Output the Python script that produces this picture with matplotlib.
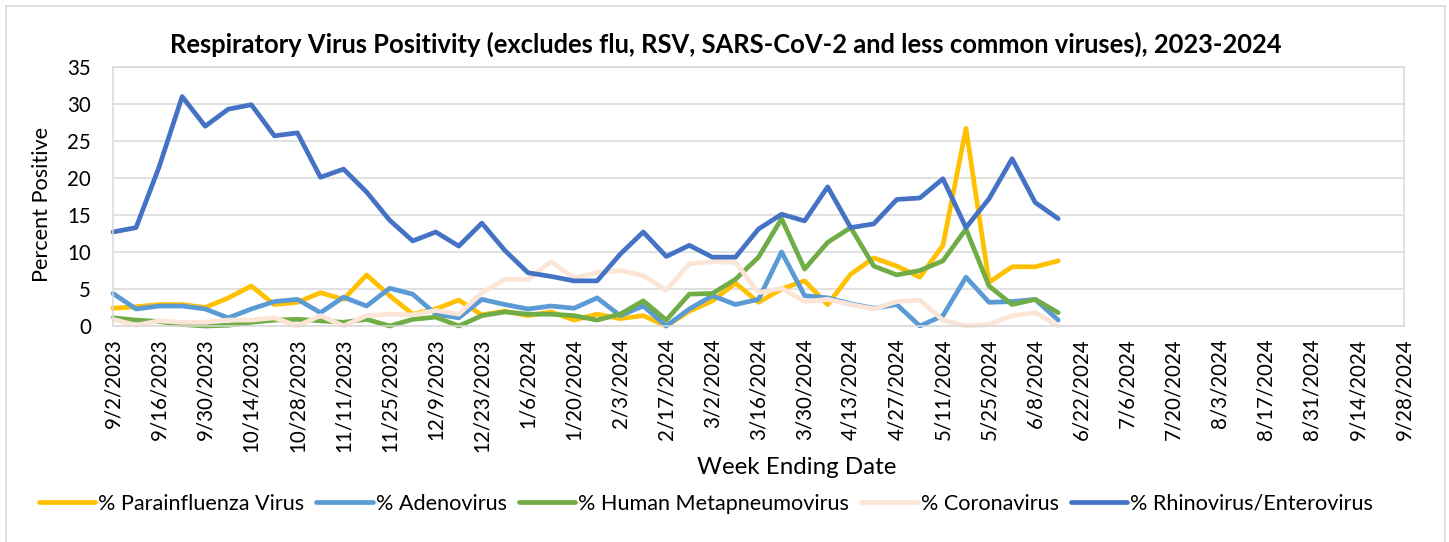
import matplotlib
matplotlib.use("Agg")
import matplotlib.pyplot as plt
from matplotlib.patches import Rectangle
import numpy as np

# weekly values, week ending 9/2/2023 .. 6/15/2024
parainfluenza = [2.4, 2.6, 2.9, 2.9, 2.5, 3.8, 5.4, 2.9, 3.2, 4.5, 3.6, 6.9, 4.1, 1.6,
                 2.3, 3.5, 1.5, 2.0, 1.4, 1.9, 0.8, 1.6, 1.0, 1.4, 0.0, 2.0, 3.4, 5.8,
                 3.2, 5.0, 6.1, 2.9, 7.0, 9.2, 8.1, 6.6, 10.9, 26.7, 5.9, 8.0, 8.0, 8.8]
adenovirus = [4.4, 2.3, 2.7, 2.7, 2.3, 1.1, 2.3, 3.3, 3.6, 1.8, 3.9, 2.7, 5.1, 4.3,
              1.6, 1.1, 3.6, 2.9, 2.3, 2.7, 2.4, 3.8, 1.4, 2.7, 0.0, 2.3, 4.1, 2.9,
              3.6, 10.0, 4.1, 3.8, 3.0, 2.4, 2.9, 0.0, 1.4, 6.6, 3.2, 3.3, 3.6, 0.8]
metapneumovirus = [1.1, 0.8, 0.6, 0.2, 0.0, 0.1, 0.5, 0.8, 0.9, 0.7, 0.5, 0.9, 0.0, 0.9,
                   1.2, 0.0, 1.4, 1.9, 1.6, 1.6, 1.4, 0.8, 1.6, 3.4, 0.8, 4.3, 4.4, 6.3,
                   9.3, 14.5, 7.7, 11.3, 13.3, 8.1, 6.9, 7.5, 8.8, 13.1, 5.4, 2.9, 3.6, 1.8]
coronavirus = [0.9, 0.1, 0.7, 0.5, 0.5, 0.8, 0.8, 1.1, 0.0, 1.4, 0.0, 1.4, 1.6, 1.5,
               2.1, 1.6, 4.5, 6.3, 6.3, 8.7, 6.5, 7.2, 7.5, 6.8, 4.8, 8.4, 8.7, 8.6,
               4.5, 5.1, 3.3, 3.6, 2.9, 2.3, 3.3, 3.5, 0.8, 0.0, 0.2, 1.4, 1.8, 0.0]
rhinovirus = [12.7, 13.3, 21.5, 31.0, 27.0, 29.3, 29.9, 25.7, 26.1, 20.1, 21.2, 18.1, 14.3, 11.5,
              12.7, 10.8, 13.9, 10.2, 7.2, 6.7, 6.1, 6.1, 9.7, 12.7, 9.4, 10.9, 9.3, 9.3,
              13.1, 15.1, 14.2, 18.8, 13.3, 13.8, 17.1, 17.3, 19.9, 13.3, 17.2, 22.6, 16.7, 14.5]

# axis labels every two weeks, 9/2/2023 .. 9/28/2024
tick_labels = ["9/2/2023", "9/16/2023", "9/30/2023", "10/14/2023", "10/28/2023",
               "11/11/2023", "11/25/2023", "12/9/2023", "12/23/2023", "1/6/2024",
               "1/20/2024", "2/3/2024", "2/17/2024", "3/2/2024", "3/16/2024",
               "3/30/2024", "4/13/2024", "4/27/2024", "5/11/2024", "5/25/2024",
               "6/8/2024", "6/22/2024", "7/6/2024", "7/20/2024", "8/3/2024",
               "8/17/2024", "8/31/2024", "9/14/2024", "9/28/2024"]

series = [
    ("% Parainfluenza Virus", parainfluenza, "#FFC000"),
    ("% Adenovirus", adenovirus, "#5B9BD5"),
    ("% Human Metapneumovirus", metapneumovirus, "#70AD47"),
    ("% Coronavirus", coronavirus, "#FBE5D6"),
    ("% Rhinovirus/Enterovirus", rhinovirus, "#4472C4"),
]

plt.rcParams["font.family"] = ["Lato", "DejaVu Sans"]
W, H = 1449, 542
fig = plt.figure(figsize=(W / 100, H / 100), dpi=100)
ax = fig.add_axes([113 / W, 1 - 326 / H, (1404 - 113) / W, (326 - 67) / H])

# chart border
fig.patches.append(Rectangle((6 / W, -0.01), (1445 - 6) / W, 1 - 6 / H + 0.01,
                             transform=fig.transFigure, fill=False,
                             edgecolor="#D9D9D9", lw=1.2))

handles = []
for name, vals, color in series:
    x = np.arange(len(vals))
    ln, = ax.plot(x, vals, color=color, lw=3.4, solid_joinstyle="round",
                  solid_capstyle="round", label=name, clip_on=False)
    handles.append(ln)

ax.set_xlim(0, 2 * (len(tick_labels) - 1))
ax.set_ylim(0, 35)
ax.set_yticks(np.arange(0, 36, 5))
ax.set_xticks(np.arange(0, 2 * len(tick_labels), 2))
ax.set_xticklabels(tick_labels, rotation=90)
ax.grid(axis="y", color="#D9D9D9", lw=1.1)
ax.set_axisbelow(True)
for sp in ax.spines.values():
    sp.set_color("#D9D9D9")
    sp.set_linewidth(1.1)
ax.tick_params(axis="both", length=0, labelsize=14.8, colors="black")
ax.tick_params(axis="y", pad=16)
ax.tick_params(axis="x", pad=9)

fig.text(725.5 / W, 1 - 44 / H,
         "Respiratory Virus Positivity (excludes flu, RSV, SARS-CoV-2 and less common viruses), 2023-2024",
         ha="center", va="center", fontsize=18.4, fontweight="bold")
fig.text(42 / W, 1 - 204 / H, "Percent Positive", rotation=90,
         ha="center", va="center", fontsize=15.6)
fig.text(797 / W, 1 - 468 / H, "Week Ending Date", ha="center", va="center", fontsize=17.4)

fig.legend(handles=handles, loc="center", bbox_to_anchor=(706 / W, 1 - 504 / H),
           ncol=5, frameon=False, fontsize=15.6, handlelength=2.6,
           handletextpad=0.15, columnspacing=0.55, borderpad=0)

fig.savefig("out.png", dpi=100)
